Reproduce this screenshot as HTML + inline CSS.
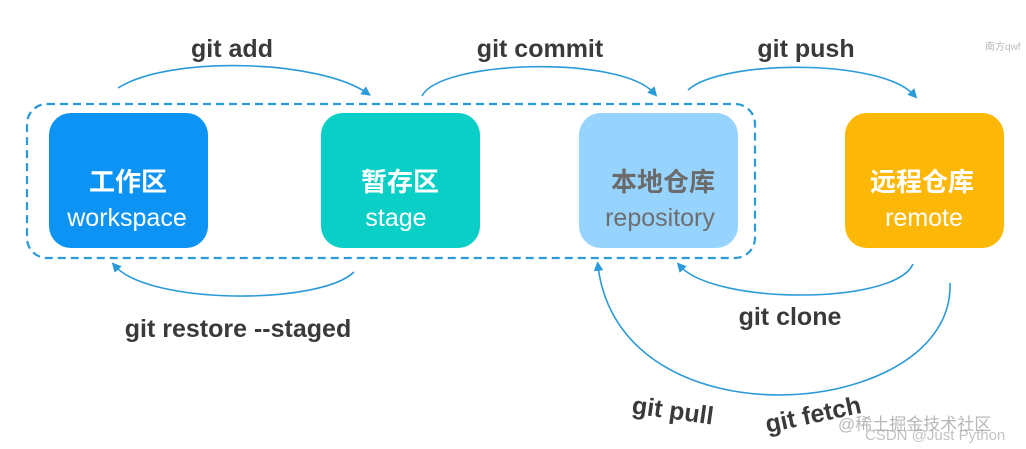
<!DOCTYPE html>
<html><head><meta charset="utf-8"><style>
html,body{margin:0;padding:0;background:#fff;}
svg{display:block;}
.lbl{font-family:"Liberation Sans","Noto Sans CJK SC",sans-serif;font-weight:bold;font-size:25px;fill:#3a3a3a;}
.cn{font-family:"Noto Sans CJK SC",sans-serif;font-weight:bold;font-size:26px;fill:#fff;}
.en{font-family:"Liberation Sans","Noto Sans CJK SC",sans-serif;font-size:25px;fill:#fff;}
.c{fill:none;stroke:#2a9ad8;stroke-width:1.6;}
</style></head><body>
<svg width="1026" height="449" viewBox="0 0 1026 449" xmlns="http://www.w3.org/2000/svg">
<defs><marker id="a" markerWidth="6" markerHeight="6" refX="3" refY="3" orient="auto"><path d="M0,0 L6,3 L0,6 Z" fill="#2a9ad8"/></marker></defs>
<rect x="27" y="104" width="728" height="154" rx="20" fill="none" stroke="#2a9ad8" stroke-width="2.2" stroke-dasharray="8,5"/>
<rect x="49" y="113" width="159" height="135" rx="22" fill="#0d93f3"/>
<rect x="321" y="113" width="159" height="135" rx="22" fill="#0acfc6"/>
<rect x="579" y="113" width="159" height="135" rx="22" fill="#96d3fd"/>
<rect x="845" y="113" width="159" height="135" rx="22" fill="#fdb807"/>
<text class="cn" x="128" y="191" text-anchor="middle">工作区</text>
<text class="en" x="127" y="226" text-anchor="middle">workspace</text>
<text class="cn" x="400" y="191" text-anchor="middle">暂存区</text>
<text class="en" x="396" y="226" text-anchor="middle">stage</text>
<text class="cn" x="663" y="191" text-anchor="middle" style="fill:#6b6b6b">本地仓库</text>
<text class="en" x="660" y="226" text-anchor="middle" style="fill:#6e6e6e">repository</text>
<text class="cn" x="922" y="191" text-anchor="middle">远程仓库</text>
<text class="en" x="924" y="226" text-anchor="middle">remote</text>
<path class="c" d="M118,88 C170,55 320,60 367,93" marker-end="url(#a)"/>
<path class="c" d="M422,96 C440,60 620,55 654,93" marker-end="url(#a)"/>
<path class="c" d="M688,90 C720,60 880,58 914,95" marker-end="url(#a)"/>
<path class="c" d="M354,272 C320,305 150,305 115,266" marker-end="url(#a)"/>
<path class="c" d="M913,264 C895,305 715,305 680,266" marker-end="url(#a)"/>
<path class="c" d="M950,283 C955,420 620,450 598,266" marker-end="url(#a)"/>
<text class="lbl" x="232" y="57" text-anchor="middle">git add</text>
<text class="lbl" x="540" y="57" text-anchor="middle">git commit</text>
<text class="lbl" x="806" y="57" text-anchor="middle">git push</text>
<text class="lbl" x="238" y="337" text-anchor="middle">git restore --staged</text>
<text class="lbl" x="790" y="325" text-anchor="middle">git clone</text>
<text class="lbl" x="673" y="419" text-anchor="middle" transform="rotate(8 673 410)">git pull</text>
<text class="lbl" x="813" y="423" text-anchor="middle" transform="rotate(-12 813 414)">git fetch</text>
<text x="985" y="50" font-family="Liberation Sans,Noto Sans CJK SC,sans-serif" font-size="10" fill="#bbb">南方qwf</text>
<text x="838" y="430" font-family="Liberation Sans,Noto Sans CJK SC,sans-serif" font-size="17" fill="#999" opacity="0.7">@稀土掘金技术社区</text>
<text x="865" y="440" font-family="Liberation Sans,sans-serif" font-size="15" fill="#999" opacity="0.6">CSDN @Just Python</text>
</svg>
</body></html>
